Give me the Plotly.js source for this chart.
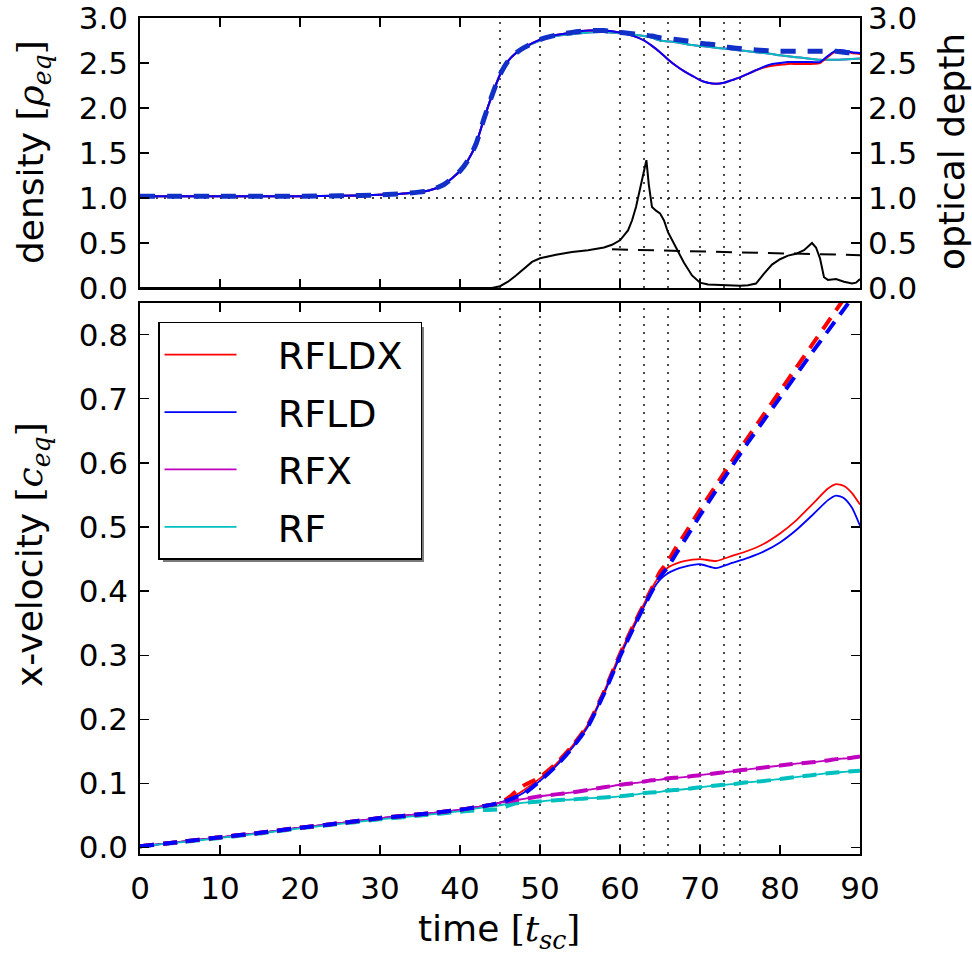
<!DOCTYPE html>
<html>
<head>
<meta charset="utf-8">
<script src="https://cdn.plot.ly/plotly-3.0.1.min.js"></script>
<style>html,body{margin:0;padding:0;background:#fff;}</style>
</head>
<body>
<div id="chart" style="width:972px;height:961px;"></div>
<script>
// ---------------- data ----------------
const runNames = ["RFLDX", "RFLD", "RFX", "RF"];
const eventTimes = [45, 50, 60, 63, 66, 70, 73, 75];
const densRef = 1.0;
const xTicks = [0, 10, 20, 30, 40, 50, 60, 70, 80, 90];
const densTicks = [0, 0.5, 1.0, 1.5, 2.0, 2.5, 3.0];
const velTicks = [0, 0.1, 0.2, 0.3, 0.4, 0.5, 0.6, 0.7, 0.8];

// top panel: density
const t_dens = [0,5,10,15,20,25,30,33,36,38,40,41,42,43,44,45,46,47,48,50,52,54,56,58,60,61,62,63,64,65,66,67,68,69,70,71,72,73,74,75,76,77,78,79,80,81,82,83,84,85,86,87,88,89,90];
const dens_RFLD = [1.02,1.02,1.02,1.02,1.02,1.025,1.035,1.05,1.08,1.15,1.3,1.42,1.6,1.88,2.14,2.37,2.52,2.61,2.67,2.76,2.81,2.84,2.86,2.86,2.84,2.82,2.79,2.75,2.69,2.62,2.54,2.47,2.41,2.36,2.31,2.28,2.27,2.28,2.31,2.34,2.38,2.42,2.46,2.49,2.5,2.51,2.51,2.51,2.51,2.51,2.58,2.64,2.64,2.62,2.61];
const dens_RFLDX = [1.02,1.02,1.02,1.02,1.02,1.025,1.035,1.05,1.08,1.15,1.3,1.42,1.6,1.88,2.14,2.37,2.52,2.61,2.67,2.76,2.81,2.84,2.86,2.86,2.84,2.82,2.79,2.75,2.69,2.62,2.54,2.47,2.41,2.36,2.31,2.28,2.27,2.28,2.31,2.34,2.38,2.42,2.45,2.47,2.48,2.49,2.49,2.49,2.49,2.5,2.57,2.63,2.63,2.61,2.6];
const dens_RFX = [1.02,1.02,1.02,1.02,1.02,1.025,1.035,1.05,1.08,1.15,1.3,1.42,1.6,1.88,2.14,2.37,2.52,2.61,2.67,2.75,2.8,2.82,2.84,2.845,2.83,2.82,2.81,2.8,2.78,2.75,2.74,2.73,2.715,2.7,2.69,2.68,2.67,2.66,2.65,2.64,2.63,2.62,2.61,2.6,2.585,2.575,2.565,2.555,2.545,2.535,2.535,2.535,2.54,2.545,2.55];
const dens_RF = [1.02,1.02,1.02,1.02,1.02,1.025,1.035,1.05,1.08,1.15,1.3,1.42,1.6,1.88,2.14,2.37,2.52,2.61,2.67,2.75,2.8,2.82,2.84,2.845,2.83,2.82,2.81,2.8,2.78,2.75,2.74,2.73,2.715,2.7,2.69,2.68,2.67,2.66,2.65,2.64,2.63,2.62,2.61,2.6,2.585,2.575,2.565,2.555,2.545,2.535,2.535,2.535,2.54,2.545,2.55];
const densDash = [1.02,1.02,1.02,1.02,1.02,1.025,1.035,1.05,1.08,1.15,1.3,1.42,1.6,1.88,2.14,2.37,2.52,2.61,2.67,2.76,2.81,2.84,2.86,2.86,2.84,2.83,2.82,2.81,2.8,2.78,2.77,2.76,2.75,2.74,2.72,2.71,2.7,2.68,2.67,2.66,2.65,2.645,2.64,2.635,2.63,2.63,2.63,2.63,2.63,2.63,2.63,2.63,2.62,2.61,2.6];

// top panel: optical depth
const t_tau = [0,44,45,46,47,48,49,50,52,54,56,58,59,60,61,61.5,62,62.5,63,63.3,63.6,64,64.5,65,65.5,66,67,68,69,70,71,73,75,76,77,78,79,80,81,82,83,84,84.5,85,85.5,86,87,88,89,89.5,90];
const tau = [0,0,0.02,0.07,0.14,0.22,0.29,0.33,0.37,0.4,0.42,0.45,0.48,0.53,0.64,0.75,0.9,1.1,1.32,1.42,1.15,0.9,0.86,0.83,0.75,0.62,0.45,0.28,0.14,0.06,0.04,0.03,0.025,0.03,0.05,0.16,0.26,0.32,0.36,0.38,0.42,0.5,0.45,0.33,0.12,0.09,0.1,0.07,0.05,0.06,0.1];
const t_tauDash = [59, 90];
const tauDash = [0.43, 0.365];

// bottom panel: x-velocity
const t_vel = [0,5,10,15,20,25,30,35,40,42,44,45,46,47,48,50,52,54,56,58,60,62,63,64,65,66,67,68,70,72,74,76,78,80,82,84,86,87,88,89,90];
const vel_RFLDX = [0.002,0.009,0.016,0.023,0.031,0.038,0.046,0.052,0.059,0.063,0.067,0.070,0.075,0.082,0.090,0.108,0.130,0.158,0.192,0.243,0.302,0.355,0.380,0.405,0.425,0.437,0.443,0.447,0.450,0.447,0.455,0.463,0.474,0.490,0.510,0.535,0.560,0.567,0.564,0.553,0.535];
const vel_RFLD = [0.002,0.009,0.016,0.023,0.031,0.038,0.046,0.052,0.059,0.063,0.067,0.070,0.074,0.079,0.086,0.104,0.127,0.155,0.189,0.240,0.298,0.351,0.376,0.400,0.418,0.428,0.434,0.438,0.442,0.436,0.444,0.452,0.462,0.476,0.495,0.518,0.542,0.549,0.545,0.530,0.502];
const vel_RFX = [0.002,0.009,0.016,0.023,0.031,0.038,0.046,0.052,0.059,0.063,0.067,0.070,0.072,0.074,0.076,0.080,0.083,0.086,0.090,0.094,0.098,0.101,0.103,0.105,0.106,0.108,0.109,0.110,0.113,0.116,0.119,0.122,0.125,0.128,0.131,0.133,0.136,0.138,0.139,0.140,0.142];
const vel_RF = [0.002,0.008,0.015,0.022,0.030,0.037,0.044,0.050,0.057,0.061,0.064,0.066,0.068,0.069,0.070,0.072,0.074,0.075,0.077,0.078,0.080,0.083,0.085,0.086,0.087,0.089,0.090,0.091,0.094,0.097,0.099,0.102,0.104,0.107,0.110,0.113,0.116,0.117,0.118,0.119,0.120];
const velDash_RFLDX = [0.002,0.009,0.016,0.023,0.031,0.038,0.046,0.052,0.059,0.063,0.067,0.070,0.077,0.088,0.097,0.110,0.131,0.158,0.192,0.243,0.302,0.355,0.380,0.405,0.430,0.447,0.468,0.487,0.527,0.565,0.603,0.640,0.676,0.712,0.748,0.784,0.820,0.838,0.856,0.873,0.890];
const velDash_RFLD = [0.002,0.009,0.016,0.023,0.031,0.038,0.046,0.052,0.059,0.063,0.067,0.070,0.074,0.079,0.084,0.104,0.127,0.155,0.189,0.240,0.298,0.351,0.376,0.400,0.422,0.438,0.458,0.478,0.518,0.557,0.595,0.632,0.667,0.702,0.737,0.772,0.806,0.823,0.840,0.857,0.873];
const velDash_RFX = vel_RFX;
const velDash_RF = [0.002,0.008,0.015,0.022,0.030,0.037,0.044,0.050,0.056,0.058,0.059,0.060,0.065,0.069,0.070,0.072,0.074,0.075,0.077,0.078,0.080,0.083,0.085,0.086,0.087,0.089,0.090,0.091,0.094,0.097,0.099,0.102,0.104,0.107,0.110,0.113,0.116,0.117,0.118,0.119,0.120];

// ---------------- styling ----------------
const col = {RFLDX: "#ff0000", RFLD: "#0000ff", RFX: "#bf00bf", RF: "#00bfbf"};
const FONT = "DejaVu Sans, Verdana, sans-serif";
const solidW = 1.8, dashW = 4, dashPat = "14px,9px";
const NB = "\u00a0\u00a0\u00a0";

const densData = {RFLDX: dens_RFLDX, RFLD: dens_RFLD, RFX: dens_RFX, RF: dens_RF};
const velData = {RFLDX: vel_RFLDX, RFLD: vel_RFLD, RFX: vel_RFX, RF: vel_RF};
const velDashData = {RFLDX: velDash_RFLDX, RFLD: velDash_RFLD, RFX: velDash_RFX, RF: velDash_RF};

const traces = [];
// bottom panel solid (legend entries)
runNames.forEach(n => traces.push({
  x: t_vel, y: velData[n], xaxis: "x", yaxis: "y", type: "scatter", mode: "lines",
  name: NB + n + "\u00a0", legendgroup: n, line: {color: col[n], width: solidW, shape: "spline", smoothing: 0.6}, showlegend: true
}));
// bottom panel dashed
["RF", "RFX", "RFLDX", "RFLD"].forEach(n => traces.push({
  x: t_vel, y: velDashData[n], xaxis: "x", yaxis: "y", type: "scatter", mode: "lines",
  name: n + " (dashed)", legendgroup: n, line: {color: col[n], width: dashW, dash: dashPat, shape: "spline", smoothing: 0.6}, showlegend: false
}));
// top panel density solid
["RFX", "RF", "RFLDX", "RFLD"].forEach(n => traces.push({
  x: t_dens, y: densData[n], xaxis: "x2", yaxis: "y2", type: "scatter", mode: "lines",
  name: n + " density", legendgroup: n, line: {color: col[n], width: 2, shape: "spline", smoothing: 0.6}, showlegend: false
}));
traces.push({
  x: t_dens, y: densDash, xaxis: "x2", yaxis: "y2", type: "scatter", mode: "lines",
  name: "density (dashed)", line: {color: "#1030c8", width: 5, dash: "15px,12px", shape: "spline", smoothing: 0.6}, showlegend: false
});
// optical depth
traces.push({
  x: t_tau, y: tau, xaxis: "x2", yaxis: "y3", type: "scatter", mode: "lines",
  name: "optical depth", line: {color: "#000", width: 2}, showlegend: false
});
traces.push({
  x: t_tauDash, y: tauDash, xaxis: "x2", yaxis: "y3", type: "scatter", mode: "lines",
  name: "optical depth (dashed)", line: {color: "#000", width: 2, dash: "16px,10px"}, showlegend: false
});

// ---------------- layout ----------------
const axBase = {
  showline: true, linecolor: "#000", linewidth: 1.8, mirror: "ticks",
  ticks: "inside", ticklen: 9, tickwidth: 1.3, tickcolor: "#000", ticklabeloverflow: "allow",
  showgrid: false, zeroline: false, tickfont: {family: FONT, size: 31, color: "#000"}
};
const shapes = [];
eventTimes.forEach(tv => {
  shapes.push({type: "line", xref: "x", yref: "y domain", x0: tv, x1: tv, y0: 0, y1: 1,
    line: {color: "#000", width: 1.4, dash: "2px,6px"}, layer: "below"});
  shapes.push({type: "line", xref: "x2", yref: "y2 domain", x0: tv, x1: tv, y0: 0, y1: 1,
    line: {color: "#000", width: 1.4, dash: "2px,6px"}, layer: "below"});
});
shapes.push({type: "line", xref: "x2 domain", yref: "y2", x0: 0, x1: 1, y0: densRef, y1: densRef,
  line: {color: "#000", width: 1.4, dash: "2px,6px"}, layer: "below"});
// legend shadow
shapes.push({type: "rect", xref: "paper", yref: "paper", x0: 0.0319, x1: 0.3944, y0: 0.3493, y1: 0.6304,
  line: {width: 0}, fillcolor: "#7a7a7a", layer: "above"});

const mathSpan = s => "<span style='font-family:DejaVu Serif'>" + s + "</span>";
const annotations = [
  {xref: "paper", yref: "paper", x: -0.1486, y: 0.8397, textangle: -90, showarrow: false,
   xanchor: "center", yanchor: "middle", font: {family: FONT, size: 36, color: "#000"},
   text: "density " + mathSpan("[<i>ρ</i><sub><i>eq</i></sub>]")},
  {xref: "paper", yref: "paper", x: -0.1486, y: 0.3577, textangle: -90, showarrow: false,
   xanchor: "center", yanchor: "middle", font: {family: FONT, size: 36, color: "#000"},
   text: "x-velocity " + mathSpan("[<i>c</i><sub><i>eq</i></sub>]")},
  {xref: "paper", yref: "paper", x: 1.1264, y: 0.8397, textangle: -90, showarrow: false,
   xanchor: "center", yanchor: "middle", font: {family: FONT, size: 36, color: "#000"},
   text: "optical depth"},
  {xref: "paper", yref: "paper", x: 0.4986, y: -0.0933, showarrow: false,
   xanchor: "center", yanchor: "middle", font: {family: FONT, size: 36, color: "#000"},
   text: "time " + mathSpan("[<i>t</i><sub><i>sc</i></sub>]")}
];

const layout = {
  width: 972, height: 961,
  margin: {l: 140, r: 112, t: 18, b: 107},
  paper_bgcolor: "#fff", plot_bgcolor: "#fff",
  font: {family: FONT, size: 31, color: "#000"},
  showlegend: true,
  legend: {x: 0.025, y: 0.6364, xanchor: "left", yanchor: "top", bgcolor: "#fff",
    bordercolor: "#000", borderwidth: 1.5, font: {family: FONT, size: 38, color: "#000"},
    itemwidth: 72, tracegroupgap: 5, traceorder: "grouped"},
  xaxis: Object.assign({}, axBase, {domain: [0, 1], anchor: "y", range: [0, 90], tickvals: xTicks, ticklabelstandoff: 6}),
  xaxis2: Object.assign({}, axBase, {domain: [0, 1], anchor: "y2", matches: "x", range: [0, 90], tickvals: xTicks, showticklabels: false}),
  yaxis: Object.assign({}, axBase, {domain: [0, 0.6595], anchor: "x", range: [-0.01, 0.85], tickvals: velTicks, tickformat: ".1f", ticklabelstandoff: 4}),
  yaxis2: Object.assign({}, axBase, {domain: [0.677, 1], anchor: "x2", range: [0, 3], tickvals: densTicks, tickformat: ".1f", ticklabelstandoff: 4}),
  yaxis3: Object.assign({}, axBase, {overlaying: "y2", side: "right", anchor: "x2", range: [0, 3], tickvals: densTicks, tickformat: ".1f", mirror: false, ticklabelstandoff: 0}),
  shapes: shapes,
  annotations: annotations
};

Plotly.newPlot("chart", traces, layout, {displayModeBar: false, staticPlot: true});
</script>
</body>
</html>
